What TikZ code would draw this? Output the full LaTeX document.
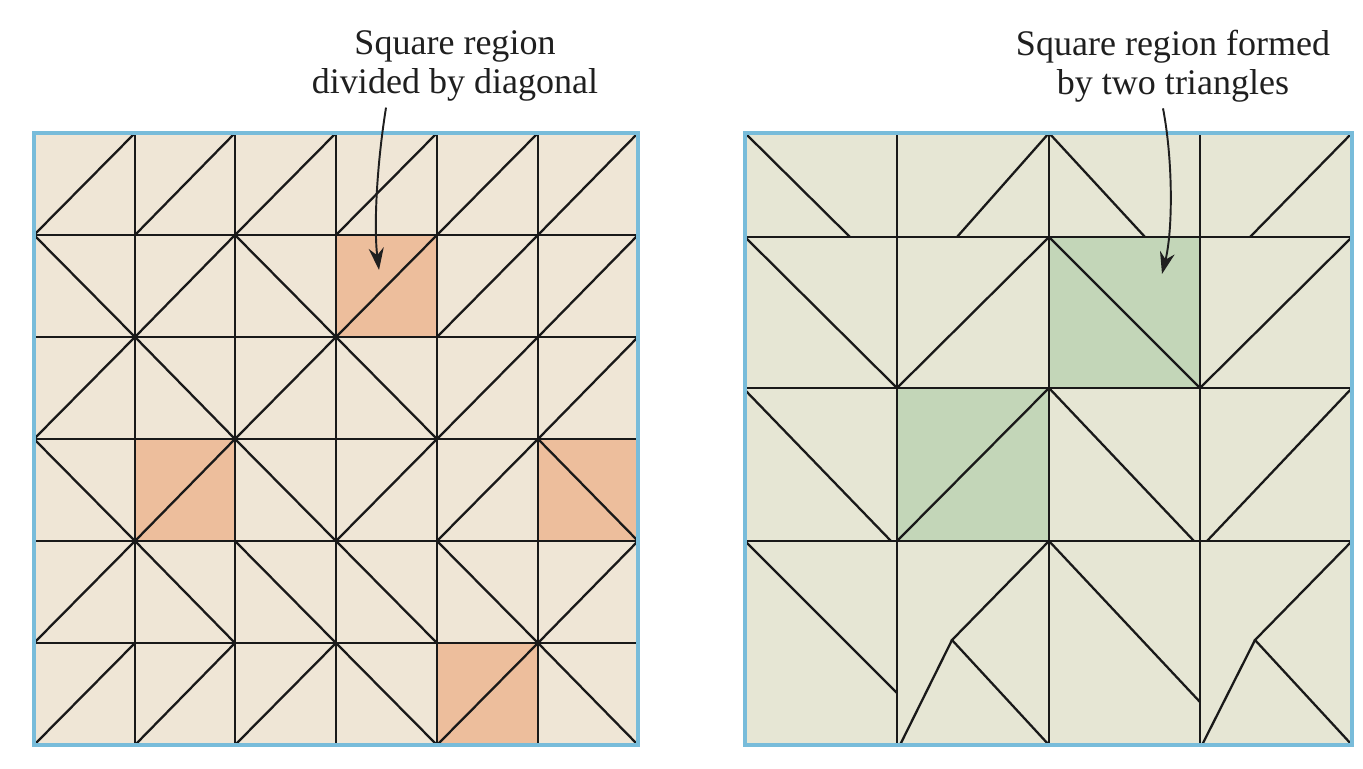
\documentclass[tikz,border=0pt]{standalone}
\usepackage{fontspec}
\setmainfont{Liberation Serif}
\usetikzlibrary{arrows.meta}
\definecolor{paper}{HTML}{EFE6D6}
\definecolor{peach}{HTML}{EDBE9C}
\definecolor{sage}{HTML}{E6E6D4}
\definecolor{leaf}{HTML}{C3D6B8}
\definecolor{frame}{HTML}{78BCDA}
\begin{document}
\begin{tikzpicture}[x=0.02cm,y=-0.02cm,
    cut/.style={line width=1.3pt,black!90},
    border/.style={line width=2.4pt,frame},
    lbl/.style={align=center,font=\fontsize{20.5}{22.3}\selectfont,text=black!88},
    pointer/.style={line width=1.1pt,black!88,-{Stealth[length=0.44cm,width=0.3cm]}}]
    \useasboundingbox (0,0) rectangle (1363,768);
    %% Left board
    \fill[paper] (34,133) rectangle (638,745);
    \fill[peach] (336,235) rectangle (437,337);
    \fill[peach] (135,439) rectangle (235,541);
    \fill[peach] (538,439) rectangle (638,541);
    \fill[peach] (437,643) rectangle (538,745);
    %% Left grid
    \draw[cut] (135,133) -- (135,745) (235,133) -- (235,745) (336,133) -- (336,745)
               (437,133) -- (437,745) (538,133) -- (538,745);
    \draw[cut] (34,235) -- (638,235) (34,337) -- (638,337) (34,439) -- (638,439)
               (34,541) -- (638,541) (34,643) -- (638,643);
    %% Left diagonals
    \draw[cut] (34,235) -- (135,133) (135,235) -- (235,133) (235,235) -- (336,133)
               (336,235) -- (437,133) (437,235) -- (538,133) (538,235) -- (638,133);
    \draw[cut] (34,235) -- (135,337) (135,337) -- (235,235) (235,235) -- (336,337)
               (336,337) -- (437,235) (437,337) -- (538,235) (538,337) -- (638,235);
    \draw[cut] (34,439) -- (135,337) (135,337) -- (235,439) (235,439) -- (336,337)
               (336,337) -- (437,439) (437,439) -- (538,337) (538,439) -- (638,337);
    \draw[cut] (34,439) -- (135,541) (135,541) -- (235,439) (235,439) -- (336,541)
               (336,541) -- (437,439) (437,541) -- (538,439) (538,439) -- (638,541);
    \draw[cut] (34,643) -- (135,541) (135,541) -- (235,643) (235,541) -- (336,643)
               (336,541) -- (437,643) (437,541) -- (538,643) (538,643) -- (638,541);
    \draw[cut] (34,745) -- (135,643) (135,745) -- (235,643) (235,745) -- (336,643)
               (336,643) -- (437,745) (437,745) -- (538,643) (538,643) -- (638,745);
    \draw[border] (34,133) rectangle (638,745);
    %% Right board
    \fill[sage] (745,133) rectangle (1352,745);
    \fill[leaf] (1049,237) rectangle (1200,388);
    \fill[leaf] (897,388) rectangle (1049,541);
    %% Right grid
    \draw[cut] (897,133) -- (897,745) (1049,133) -- (1049,745) (1200,133) -- (1200,745);
    \draw[cut] (745,237) -- (1352,237) (745,388) -- (1352,388) (745,541) -- (1352,541);
    %% Right pieces
    \draw[cut] (745,133) -- (850,237) (1049,133) -- (957,237)
               (1049,133) -- (1145,237) (1352,133) -- (1250,237);
    \draw[cut] (745,237) -- (897,388) (897,388) -- (1049,237)
               (1049,237) -- (1200,388) (1200,388) -- (1352,237);
    \draw[cut] (745,390) -- (891,541) (897,541) -- (1049,388)
               (1049,388) -- (1194,541) (1207,541) -- (1352,388);
    \draw[cut] (745,541) -- (897,693) (1049,541) -- (952,640) -- (1049,745)
               (952,640) -- (900,745) (1049,541) -- (1200,702);
    \draw[cut] (1352,541) -- (1255,640) -- (1352,745) (1255,640) -- (1202,745);
    \draw[border] (745,133) rectangle (1352,745);
    %% Labels
    \node[lbl] (lblLeft) at (455,66) {Square region\\divided by diagonal};
    \node[lbl] (lblRight) at (1173,66) {Square region formed\\by two triangles};
    \coordinate (tipLeft) at (379,270);
    \coordinate (tipRight) at (1162,274);
    \draw[pointer] ([xshift=-1.38cm]lblLeft.south) .. controls (376,170) and (374,230) .. (tipLeft);
    \draw[pointer] ([xshift=-0.2cm]lblRight.south) .. controls (1173,160) and (1173,230) .. (tipRight);
\end{tikzpicture}
\end{document}
